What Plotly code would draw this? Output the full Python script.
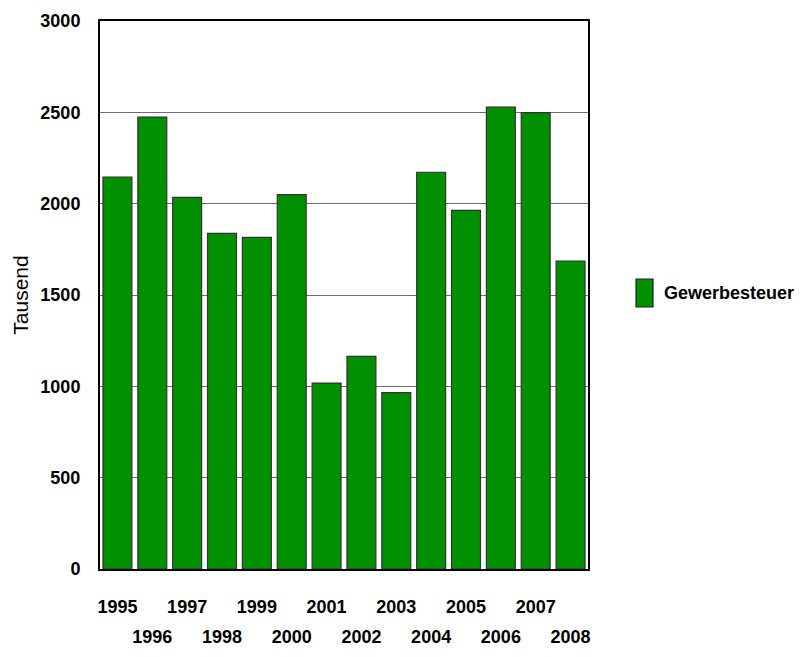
import plotly.graph_objects as go

# Gewerbesteuer-Einnahmen in Tausend
years = ["1995", "1996", "1997", "1998", "1999", "2000", "2001",
         "2002", "2003", "2004", "2005", "2006", "2007", "2008"]
gewerbesteuer = [2146, 2474, 2034, 1837, 1815, 2050, 1018,
                 1164, 966, 2172, 1963, 2529, 2498, 1686]
y_ticks = [0, 500, 1000, 1500, 2000, 2500, 3000]

series_name = "Gewerbesteuer"
y_title = "Tausend"

FONT = "Liberation Sans, Arial, sans-serif"
GREEN = "#009000"

# Jahresbeschriftungen abwechselnd in zwei Zeilen
upper_row = years[0::2]
lower_row = years[1::2]

fig = go.Figure()
fig.add_trace(go.Bar(
    x=years, y=gewerbesteuer, name=series_name,
    marker=dict(color=GREEN, line=dict(color="#333333", width=1.2)),
    showlegend=False,
))

tick_font = dict(family=FONT, size=18, color="black", weight="bold")

fig.update_layout(
    width=802, height=657,
    margin=dict(l=100, r=214, t=21, b=88),
    paper_bgcolor="white", plot_bgcolor="white",
    bargap=0.17,
    font=dict(family=FONT),
    xaxis=dict(
        type="category", categoryorder="array", categoryarray=years,
        tickmode="array", tickvals=upper_row, ticktext=upper_row,
        ticks="", ticklabelstandoff=20, tickfont=tick_font,
        showline=True, linecolor="black", linewidth=2, mirror=True,
        showgrid=False, zeroline=False, automargin=False,
    ),
    xaxis2=dict(
        type="category", categoryorder="array", categoryarray=years,
        overlaying="x", matches="x", side="bottom",
        tickmode="array", tickvals=lower_row, ticktext=lower_row,
        ticks="", ticklabelstandoff=55, tickfont=tick_font,
        showline=False, showgrid=False, zeroline=False, automargin=False,
    ),
    yaxis=dict(
        range=[0, 3000], tickmode="array", tickvals=y_ticks,
        ticks="", ticklabelstandoff=14, tickfont=tick_font,
        showline=True, linecolor="black", linewidth=2, mirror=True,
        showgrid=True, gridcolor="#6e6e6e", gridwidth=1.2,
        zeroline=False, automargin=False,
        title=dict(text=y_title, font=dict(family=FONT, size=21, color="black"),
                   standoff=6),
    ),
)

# Unsichtbare Spur, damit die zweite Beschriftungszeile gezeichnet wird
fig.add_trace(go.Bar(x=years, y=[None] * len(years), xaxis="x2",
                     showlegend=False, hoverinfo="skip"))

# Legende: Farbfeld und Bezeichnung
fig.add_shape(type="rect", xref="paper", yref="paper",
              x0=(636 - 100) / 488, x1=(653 - 100) / 488,
              y0=(569 - 307) / 548, y1=(569 - 279) / 548,
              fillcolor=GREEN, line=dict(color="#222222", width=1.2))
fig.add_annotation(xref="paper", yref="paper",
                   x=(662 - 100) / 488, y=(569 - 293) / 548,
                   xanchor="left", yanchor="middle", showarrow=False,
                   text=series_name,
                   font=dict(family=FONT, size=18, color="black", weight="bold"))

fig.write_html("out.html")
